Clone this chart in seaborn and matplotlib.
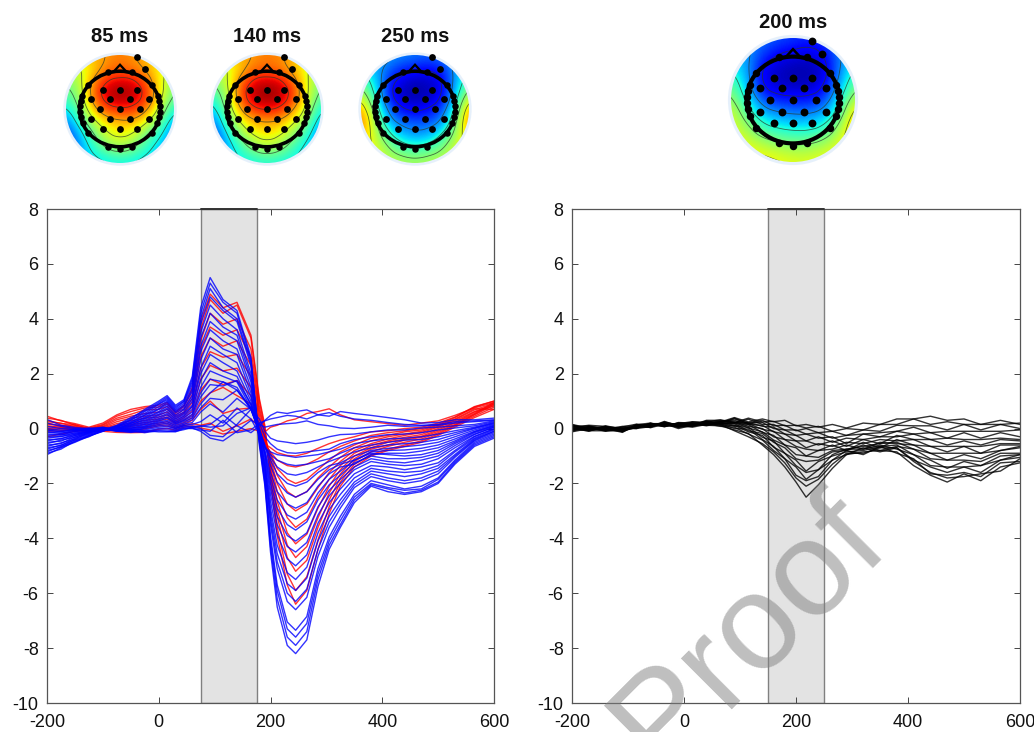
import numpy as np
import pandas as pd
import matplotlib
matplotlib.use('Agg')
import matplotlib.pyplot as plt
from matplotlib.patches import Circle, Ellipse, Polygon
import seaborn as sns

# time grids (ms)
erp_time = [-200,-175,-150,-125,-100,-75,-50,-25,0, 15,30,45,60,75,92, 115,140,165,180,190,200,212,230,245,
            265,285,305,325,350,380,410,440,470,500,530,565,600]
diff_time = [-200,-170,-140,-110,-85,-60,-35,-10,15,40,65,90,115,140,160,180,200,218,240,265,290,320,350,380,410,440,470,500,530,565,600]

blue_lines = [
    [-0.95,-0.7,-0.5,-0.28,-0.1,0.1,0.35,0.7,1.0, 1.2,0.85,1.05,1.9,4.4,5.5, 4.7,4.3,2.6,-0.6,-2.1,-4.5,-6.5,-7.9,-8.2, -7.7,-5.75,-4.4,-3.6,-2.7,-2.1,-2.3,-2.4,-2.3,-2.0,-1.3,-0.65,-0.35],
    [-0.9,-0.75,-0.45,-0.3,-0.05,0.12,0.4,0.65,0.95, 1.15,0.8,1.0,1.8,4.2,5.3, 4.6,4.2,2.5,-0.5,-2.0,-4.3,-6.2,-7.6,-7.9, -7.4,-5.5,-4.25,-3.5,-2.6,-2.05,-2.2,-2.35,-2.25,-1.95,-1.25,-0.6,-0.3],
    [-0.85,-0.65,-0.48,-0.25,-0.1,0.08,0.3,0.62,0.9, 1.1,0.75,0.98,1.7,4.0,5.1, 4.4,4.0,2.4,-0.45,-1.9,-4.1,-5.9,-7.3,-7.6, -7.1,-5.3,-4.1,-3.35,-2.5,-2.0,-2.15,-2.25,-2.2,-1.85,-1.2,-0.55,-0.25],
    [-0.8,-0.68,-0.4,-0.22,-0.04,0.05,0.32,0.55,0.88, 1.05,0.7,0.92,1.6,3.8,4.8, 4.3,3.9,2.3,-0.4,-1.8,-3.9,-5.7,-7.05,-7.35, -6.85,-5.1,-3.95,-3.2,-2.4,-1.9,-2.05,-2.2,-2.1,-1.8,-1.15,-0.5,-0.2],
    [-0.75,-0.6,-0.42,-0.26,-0.08,0.04,0.25,0.5,0.8, 1.0,0.66,0.85,1.45,3.5,4.5, 4.0,3.6,2.0,-0.35,-1.6,-3.5,-5.1,-6.3,-6.6, -6.15,-4.65,-3.6,-2.9,-2.15,-1.75,-1.9,-2.0,-1.9,-1.65,-1.05,-0.45,-0.15],
    [-0.7,-0.62,-0.35,-0.2,-0.06,0.06,0.22,0.48,0.72, 0.95,0.62,0.8,1.35,3.3,4.2, 3.7,3.4,1.85,-0.3,-1.5,-3.3,-4.85,-6.0,-6.3, -5.85,-4.4,-3.4,-2.75,-2.05,-1.65,-1.8,-1.9,-1.8,-1.55,-1.0,-0.42,-0.1],
    [-0.65,-0.52,-0.38,-0.15,-0.02,0.0,0.18,0.42,0.7, 0.88,0.58,0.72,1.2,3.0,3.9, 3.5,3.2,1.7,-0.3,-1.4,-3.1,-4.55,-5.65,-5.9, -5.45,-4.1,-3.2,-2.6,-1.95,-1.55,-1.65,-1.75,-1.65,-1.45,-0.95,-0.38,-0.1],
    [-0.6,-0.55,-0.3,-0.18,0.0,-0.02,0.2,0.38,0.62, 0.82,0.5,0.68,1.1,2.8,3.6, 3.2,2.9,1.5,-0.3,-1.3,-2.9,-4.25,-5.25,-5.5, -5.05,-3.8,-2.95,-2.4,-1.8,-1.45,-1.55,-1.6,-1.55,-1.35,-0.85,-0.35,-0.05],
    [-0.55,-0.42,-0.32,-0.12,-0.04,0.02,0.12,0.35,0.58, 0.75,0.45,0.6,1.0,2.5,3.3, 2.9,2.7,1.3,-0.25,-1.2,-2.65,-3.85,-4.75,-5.0, -4.6,-3.45,-2.7,-2.2,-1.65,-1.35,-1.4,-1.5,-1.4,-1.25,-0.8,-0.3,-0.02],
    [-0.5,-0.46,-0.25,-0.16,0.02,-0.03,0.15,0.3,0.52, 0.7,0.4,0.55,0.85,2.2,3.0, 2.7,2.4,1.15,-0.2,-1.05,-2.4,-3.5,-4.3,-4.5, -4.15,-3.15,-2.45,-2.0,-1.5,-1.2,-1.3,-1.35,-1.3,-1.1,-0.7,-0.28,0.0],
    [-0.45,-0.36,-0.26,-0.1,-0.02,0.0,0.1,0.26,0.48, 0.62,0.35,0.5,0.8,2.0,2.7, 2.4,2.1,1.0,-0.2,-0.95,-2.2,-3.2,-3.9,-4.1, -3.8,-2.85,-2.25,-1.85,-1.4,-1.1,-1.2,-1.25,-1.15,-1.0,-0.62,-0.22,0.05],
    [-0.4,-0.38,-0.2,-0.14,0.0,-0.05,0.08,0.22,0.42, 0.55,0.3,0.45,0.7,1.75,2.4, 2.1,1.9,0.85,-0.2,-0.9,-2.0,-2.9,-3.5,-3.7, -3.4,-2.6,-2.05,-1.7,-1.25,-1.0,-1.1,-1.1,-1.05,-0.9,-0.55,-0.2,0.05],
    [-0.35,-0.28,-0.22,-0.08,-0.03,-0.02,0.05,0.18,0.36, 0.5,0.25,0.4,0.6,1.5,2.1, 1.9,1.7,0.75,-0.2,-0.85,-1.8,-2.6,-3.15,-3.3, -3.05,-2.35,-1.85,-1.55,-1.15,-0.9,-0.95,-1.0,-0.95,-0.8,-0.5,-0.15,0.08],
    [-0.3,-0.3,-0.15,-0.12,0.02,-0.06,0.0,0.15,0.32, 0.42,0.22,0.34,0.52,1.3,1.8, 1.7,1.5,0.7,-0.15,-0.8,-1.6,-2.3,-2.75,-2.9, -2.7,-2.1,-1.65,-1.4,-1.3,-0.95,-0.9,-0.9,-0.82,-0.7,-0.45,-0.12,0.1],
    [-0.25,-0.22,-0.18,-0.05,-0.05,-0.03,0.02,0.1,0.28, 0.38,0.18,0.3,0.45,1.15,1.6, 1.55,1.75,0.9,0.0,-0.65,-1.35,-1.95,-2.35,-2.5, -2.3,-1.85,-1.5,-1.3,-1.15,-0.85,-0.8,-0.78,-0.72,-0.6,-0.38,-0.1,0.12],
    [-0.2,-0.24,-0.1,-0.08,0.0,-0.08,-0.03,0.08,0.24, 0.3,0.15,0.26,0.38,0.9,1.3, 1.7,1.4,0.7,-0.1,-0.6,-1.15,-1.65,-2.0,-2.1, -1.95,-1.6,-1.35,-1.25,-1.0,-0.8,-0.72,-0.66,-0.6,-0.5,-0.3,-0.05,0.15],
    [-0.15,-0.16,-0.12,-0.02,-0.06,-0.04,-0.05,0.05,0.2, 0.25,0.1,0.2,0.32,0.75,1.1, 1.05,1.4,0.75,-0.1,-0.65,-1.05,-1.4,-1.65,-1.7, -1.6,-1.4,-1.2,-1.05,-0.85,-0.7,-0.6,-0.55,-0.5,-0.4,-0.22,0.0,0.18],
    [-0.12,-0.18,-0.06,-0.06,0.02,-0.1,-0.08,0.02,0.15, 0.2,0.06,0.16,0.22,0.6,0.9, 0.6,1.1,0.7,0.0,-0.7,-0.95,-1.15,-1.3,-1.35, -1.3,-1.2,-1.1,-0.9,-0.7,-0.6,-0.5,-0.42,-0.4,-0.3,-0.15,0.02,0.2],
    [-0.08,-0.1,-0.08,0.0,-0.04,-0.05,-0.1,0.0,0.1, 0.14,0.02,0.12,0.15,0.25,0.5, 0.2,0.75,0.35,-0.2,-0.7,-0.85,-0.95,-1.0,-1.05, -1.0,-0.95,-0.85,-0.75,-0.55,-0.45,-0.38,-0.35,-0.3,-0.2,-0.08,0.05,0.22],
    [-0.05,-0.12,-0.02,-0.04,0.03,-0.08,-0.12,-0.05,0.05, 0.08,0.0,0.1,0.08,0.1,0.05, 0.1,0.55,0.75,0.2,-0.3,-0.55,-0.75,-0.88,-0.9, -0.85,-0.8,-0.75,-0.55,-0.4,-0.3,-0.22,-0.2,-0.15,-0.05,0.02,0.1,0.25],
    [0.0,-0.06,-0.05,0.02,-0.02,-0.1,-0.14,-0.1,0.0, 0.02,-0.04,0.06,0.05,0.0,-0.25, -0.3,0.15,0.7,0.35,-0.1,-0.35,-0.45,-0.5,-0.55, -0.5,-0.42,-0.3,-0.22,-0.2,-0.12,-0.05,-0.05,0.02,0.05,0.1,0.15,0.28],
    [0.08,0.0,-0.02,-0.03,0.04,-0.06,-0.1,-0.12,-0.05, -0.05,-0.08,0.02,0.02,-0.1,-0.35, -0.45,-0.1,0.3,0.15,0.05,0.1,0.15,0.18,0.2, 0.28,0.15,0.1,0.02,0.0,0.05,0.12,0.08,0.1,0.12,0.2,0.25,0.3],
    [0.2,0.08,0.0,-0.06,0.0,-0.02,-0.08,-0.15,-0.08, -0.1,-0.12,0.0,0.0,-0.05,-0.1, 0.3,-0.15,-0.05,0.2,0.28,0.35,0.4,0.48,0.45, 0.35,0.5,0.58,0.45,0.35,0.3,0.22,0.15,0.12,0.15,0.25,0.28,0.32],
    [0.33,0.12,0.04,0.0,0.05,-0.04,-0.02,-0.08,-0.12, -0.12,-0.1,-0.04,0.05,0.08,0.15, 0.5,0.1,-0.15,0.1,0.3,0.48,0.6,0.55,0.62, 0.68,0.5,0.45,0.62,0.55,0.48,0.4,0.32,0.2,0.22,0.32,0.32,0.38],
]

red_lines = [
    [0.45,0.28,0.18,0.05,0.2,0.5,0.7,0.8,0.85, 0.95,0.6,0.85,1.5,3.9,4.9, 4.4,4.6,3.4,1.1,0.1,-1.9,-3.9,-5.7,-6.4, -5.9,-4.4,-3.1,-2.1,-1.4,-1.0,-0.8,-0.65,-0.5,-0.25,0.05,0.4,0.7],
    [0.38,0.3,0.12,0.02,0.15,0.45,0.62,0.75,0.78, 0.9,0.55,0.8,1.4,3.6,4.7, 4.2,4.5,3.3,1.0,0.0,-1.8,-3.6,-5.3,-5.9, -5.4,-4.05,-2.85,-1.95,-1.3,-0.95,-0.75,-0.6,-0.45,-0.2,0.1,0.45,0.78],
    [0.3,0.18,0.15,-0.02,0.12,0.38,0.52,0.68,0.7, 0.8,0.48,0.7,1.25,3.2,4.2, 3.8,4.0,2.9,0.8,-0.1,-1.6,-3.2,-4.7,-5.2, -4.8,-3.6,-2.6,-1.8,-1.2,-0.85,-0.65,-0.5,-0.38,-0.15,0.12,0.5,0.85],
    [0.25,0.2,0.06,0.0,0.08,0.32,0.45,0.55,0.6, 0.7,0.42,0.6,1.1,2.9,3.7, 3.4,3.6,2.6,0.65,-0.15,-1.5,-2.95,-4.25,-4.7, -4.3,-3.25,-2.35,-1.65,-1.1,-0.75,-0.6,-0.42,-0.32,-0.1,0.15,0.52,0.9],
    [0.2,0.1,0.1,-0.06,0.05,0.25,0.38,0.45,0.5, 0.6,0.35,0.55,0.95,2.6,3.3, 3.0,3.2,2.3,0.5,-0.25,-1.35,-2.65,-3.8,-4.2, -3.85,-2.9,-2.1,-1.5,-1.0,-0.7,-0.5,-0.38,-0.28,-0.05,0.2,0.55,0.95],
    [0.15,0.12,0.02,-0.04,0.02,0.18,0.28,0.38,0.42, 0.5,0.28,0.45,0.8,2.2,2.8, 2.6,2.7,1.9,0.35,-0.35,-1.2,-2.3,-3.25,-3.6, -3.3,-2.5,-1.85,-1.35,-0.9,-0.62,-0.45,-0.32,-0.22,0.0,0.22,0.6,0.82],
    [0.1,0.04,0.05,-0.08,0.0,0.12,0.2,0.3,0.35, 0.42,0.22,0.38,0.65,1.8,2.3, 2.1,2.2,1.5,0.2,-0.4,-1.1,-2.0,-2.75,-3.0, -2.75,-2.15,-1.6,-1.2,-0.8,-0.55,-0.38,-0.25,-0.15,0.05,0.28,0.62,0.88],
    [0.05,0.06,-0.02,-0.05,-0.02,0.08,0.14,0.22,0.28, 0.35,0.18,0.3,0.5,1.4,1.8, 1.6,1.75,1.2,0.05,-0.45,-0.95,-1.7,-2.3,-2.5, -2.3,-1.8,-1.4,-1.05,-0.7,-0.45,-0.3,-0.2,-0.1,0.08,0.32,0.68,0.92],
    [0.0,-0.02,0.02,-0.1,-0.05,0.02,0.08,0.15,0.2, 0.25,0.12,0.22,0.4,1.0,1.3, 1.5,1.2,0.9,0.0,-0.5,-0.9,-1.45,-1.85,-2.0, -1.85,-1.5,-1.15,-0.85,-0.6,-0.35,-0.25,-0.12,-0.05,0.12,0.35,0.72,0.7],
    [-0.05,0.0,-0.06,-0.06,-0.08,-0.04,0.02,0.05,0.15, 0.18,0.05,0.15,0.3,0.7,1.0, 0.55,0.7,0.75,0.15,-0.55,-0.85,-1.15,-1.35,-1.4, -1.3,-1.1,-0.85,-0.65,-0.45,-0.25,-0.15,-0.08,0.0,0.15,0.4,0.78,1.0],
    [-0.1,-0.08,-0.02,-0.12,-0.04,-0.08,-0.06,-0.02,0.1, 0.1,0.0,0.1,0.18,0.12,0.2, -0.1,0.1,0.35,0.05,-0.55,-0.7,-0.88,-0.98,-1.0, -0.9,-0.72,-0.55,-0.42,-0.3,-0.12,-0.08,0.0,0.05,0.2,0.42,0.8,1.0],
    [-0.3,-0.2,-0.1,-0.08,-0.1,-0.14,-0.15,-0.14,-0.02, 0.0,-0.06,0.05,0.1,0.02,-0.05, -0.2,-0.1,0.0,-0.1,-0.12,0.05,0.12,0.28,0.35, 0.55,0.62,0.72,0.5,0.32,0.25,0.18,0.12,0.2,0.28,0.48,0.75,0.95],
]

black_lines = [
    [0.08,-0.05,0.02,-0.08,0.1,0.12,0.2,0.05,0.15,0.12,0.1,-0.05,-0.18,-0.6,-0.95,-1.4,-1.95,-2.5,-2.05,-1.45,-0.95,-0.85,-0.8,-0.85,-1.35,-1.7,-1.95,-1.65,-1.9,-1.4,-1.25],
    [0.0,0.02,-0.08,-0.02,0.02,0.18,0.12,0.15,0.08,0.2,0.15,-0.08,-0.3,-0.55,-0.85,-1.25,-1.8,-2.1,-1.85,-1.3,-0.9,-0.9,-0.7,-0.7,-1.2,-1.6,-1.8,-1.75,-1.65,-1.55,-1.1],
    [0.12,-0.08,0.05,-0.05,0.08,0.05,0.22,0.1,0.2,0.18,0.08,0.05,-0.2,-0.42,-0.8,-1.1,-1.7,-1.9,-1.75,-1.15,-0.8,-0.95,-0.65,-0.9,-1.1,-1.65,-1.7,-1.6,-1.75,-1.25,-1.2],
    [-0.05,0.05,-0.02,-0.1,0.05,0.15,0.08,0.12,0.05,0.15,0.18,0.0,-0.02,-0.4,-0.65,-1.1,-1.4,-1.85,-1.5,-1.15,-0.95,-0.7,-0.85,-0.7,-1.15,-1.4,-1.6,-1.4,-1.6,-1.15,-1.05],
    [0.05,-0.02,0.08,-0.12,0.12,0.1,0.18,0.0,0.12,0.22,0.12,0.12,-0.12,-0.25,-0.68,-0.9,-1.35,-1.6,-1.5,-0.95,-0.75,-0.75,-0.6,-0.75,-0.95,-1.35,-1.4,-1.4,-1.35,-1.15,-0.95],
    [0.15,0.02,-0.05,0.0,0.0,0.2,0.1,0.18,0.18,0.1,0.2,0.08,0.05,-0.32,-0.45,-0.9,-1.15,-1.55,-1.2,-1.0,-0.85,-0.8,-0.65,-0.6,-0.95,-1.15,-1.45,-1.2,-1.35,-1.0,-0.95],
    [-0.08,0.08,0.03,-0.06,0.08,0.08,0.15,0.08,0.1,0.18,0.25,0.18,-0.08,-0.18,-0.5,-0.7,-1.1,-1.2,-1.15,-0.85,-0.8,-0.6,-0.8,-0.65,-0.75,-1.1,-1.15,-1.15,-1.2,-0.9,-0.9],
    [0.02,-0.1,0.1,-0.02,0.15,0.14,0.1,0.2,0.15,0.25,0.15,0.22,0.02,-0.12,-0.42,-0.6,-0.95,-1.0,-1.05,-0.8,-0.75,-0.65,-0.55,-0.5,-0.75,-0.9,-1.15,-0.95,-1.1,-0.8,-0.65],
    [0.1,0.04,-0.1,-0.04,0.06,0.05,0.24,0.12,0.22,0.12,0.22,0.12,0.14,-0.14,-0.25,-0.6,-0.7,-1.0,-0.8,-0.75,-0.6,-0.75,-0.5,-0.55,-0.6,-0.9,-0.9,-0.9,-0.9,-0.8,-0.7],
    [-0.12,0.0,0.06,-0.08,0.1,0.16,0.12,0.06,0.08,0.2,0.28,0.25,0.08,0.0,-0.3,-0.4,-0.65,-0.75,-0.8,-0.6,-0.8,-0.5,-0.7,-0.4,-0.6,-0.65,-0.85,-0.65,-0.9,-0.6,-0.6],
    [0.06,0.1,-0.04,0.02,0.04,0.1,0.2,0.16,0.16,0.26,0.18,0.2,0.18,-0.03,-0.1,-0.4,-0.45,-0.7,-0.55,-0.65,-0.5,-0.55,-0.4,-0.45,-0.4,-0.65,-0.65,-0.65,-0.65,-0.55,-0.55],
    [0.0,-0.06,0.0,-0.14,0.14,0.2,0.06,0.22,0.2,0.16,0.25,0.3,0.15,0.12,-0.12,-0.2,-0.45,-0.45,-0.6,-0.45,-0.65,-0.4,-0.55,-0.25,-0.4,-0.4,-0.6,-0.45,-0.6,-0.4,-0.45],
    [0.14,-0.03,0.04,0.04,0.0,0.07,0.26,0.1,0.12,0.3,0.3,0.22,0.22,0.08,0.05,-0.2,-0.25,-0.45,-0.3,-0.5,-0.35,-0.4,-0.3,-0.3,-0.2,-0.4,-0.35,-0.4,-0.4,-0.35,-0.4],
    [-0.1,0.06,-0.06,-0.1,0.12,0.12,0.14,0.18,0.25,0.22,0.2,0.35,0.2,0.22,0.0,-0.05,-0.25,-0.2,-0.35,-0.3,-0.55,-0.2,-0.3,-0.1,-0.2,-0.15,-0.35,-0.15,-0.35,-0.15,-0.3],
    [0.04,0.12,0.08,-0.01,0.07,0.18,0.18,0.04,0.18,0.14,0.26,0.2,0.34,0.15,0.15,-0.05,-0.05,-0.2,-0.15,-0.35,-0.25,-0.2,-0.15,-0.1,0.05,-0.15,-0.1,-0.1,-0.1,-0.1,-0.05],
    [-0.02,-0.08,-0.08,0.06,0.16,0.03,0.16,0.14,0.1,0.28,0.2,0.38,0.18,0.3,0.1,0.12,-0.08,0.0,-0.15,-0.1,-0.25,-0.05,-0.1,0.12,0.1,0.1,-0.05,0.15,-0.05,0.15,0.0],
    [0.1,0.0,0.03,-0.06,0.03,0.14,0.08,0.2,0.14,0.24,0.32,0.22,0.38,0.24,0.26,0.1,0.12,0.02,0.08,-0.1,0.0,-0.05,0.15,0.15,0.35,0.15,0.25,0.15,0.15,0.15,0.2],
    [-0.04,0.07,-0.03,0.08,0.09,0.09,0.22,0.08,0.24,0.2,0.24,0.4,0.24,0.35,0.25,0.3,0.1,0.15,0.05,0.15,0.02,0.2,0.15,0.35,0.35,0.45,0.3,0.35,0.15,0.3,0.15],
]

window_left = [75, 175]
window_right = [150, 250]

# scalp map values on a 9x9 grid, 0-1 on the jet scale, top row is the front
map_85 = [
    [.70,.70,.72,.75,.78,.75,.72,.65,.60],
    [.58,.60,.68,.78,.80,.78,.72,.65,.55],
    [.50,.58,.78,.90,.93,.92,.82,.65,.52],
    [.45,.55,.82,.95,.98,.95,.87,.65,.48],
    [.36,.50,.72,.85,.88,.87,.78,.58,.40],
    [.26,.42,.58,.68,.72,.72,.62,.48,.30],
    [.18,.32,.48,.60,.64,.60,.48,.38,.24],
    [.15,.28,.40,.50,.54,.50,.40,.32,.25],
    [.20,.30,.33,.36,.38,.36,.33,.30,.25],
]
map_140 = [
    [.70,.70,.72,.75,.78,.76,.72,.65,.60],
    [.58,.60,.70,.79,.80,.78,.70,.62,.55],
    [.50,.60,.80,.92,.94,.92,.80,.62,.50],
    [.42,.56,.85,.96,.99,.96,.86,.62,.46],
    [.34,.52,.76,.88,.90,.88,.76,.58,.38],
    [.25,.45,.62,.72,.74,.72,.62,.50,.30],
    [.18,.36,.52,.62,.66,.62,.52,.40,.24],
    [.15,.30,.42,.52,.56,.52,.42,.33,.25],
    [.22,.32,.36,.38,.40,.38,.36,.32,.28],
]
map_250 = [
    [.30,.30,.28,.26,.24,.22,.24,.28,.32],
    [.36,.30,.22,.16,.14,.12,.16,.28,.38],
    [.46,.34,.15,.08,.05,.06,.10,.28,.46],
    [.58,.38,.14,.05,.03,.05,.10,.32,.58],
    [.72,.46,.22,.12,.10,.12,.18,.40,.72],
    [.78,.54,.30,.22,.20,.20,.26,.48,.76],
    [.72,.58,.42,.32,.28,.30,.40,.54,.70],
    [.68,.62,.52,.44,.42,.44,.50,.60,.66],
    [.64,.62,.58,.56,.54,.56,.58,.62,.64],
]
map_200 = [
    [.26,.26,.24,.20,.18,.16,.18,.24,.30],
    [.32,.28,.18,.12,.10,.08,.12,.24,.34],
    [.38,.28,.10,.06,.04,.04,.07,.24,.40],
    [.46,.30,.10,.06,.05,.05,.10,.28,.48],
    [.54,.36,.20,.15,.14,.14,.18,.36,.58],
    [.60,.46,.32,.28,.26,.26,.30,.44,.70],
    [.62,.55,.44,.40,.38,.38,.42,.55,.74],
    [.64,.62,.58,.54,.52,.52,.56,.62,.70],
    [.66,.66,.66,.64,.62,.62,.64,.66,.68],
]

map_titles = ['85 ms', '140 ms', '250 ms', '200 ms']

elec_x = [-.31,0,.31,-.54,-.18,.18,.54,-.375,0,.375,-.54,-.18,.18,.54,-.31,0,.31,.31,.47]
elec_y = [.36,.36,.36,.19,.19,.19,.19,0,0,0,-.19,-.19,-.19,-.19,-.375,-.375,-.375,.955,.74]
ring_x = [-.22,.22,-.6,.6,-.7,-.73,-.74,-.74,-.72,-.69,.7,.73,.74,.74,.72,.69,-.6,.6,-.22,0,.22]
ring_y = [.69,.69,.44,.44,.24,.15,.05,-.05,-.15,-.25,.24,.15,.05,-.05,-.15,-.25,-.45,-.45,-.7,-.74,-.7]

FIG_W, FIG_H = 1034, 732


def px_axes(fig, left, top, w, h):
    return fig.add_axes([left / FIG_W, 1 - (top + h) / FIG_H, w / FIG_W, h / FIG_H])


def butterfly(ax, time, groups, palette, window):
    rows = []
    for name, lines in groups:
        for i, line in enumerate(lines):
            rows.append(pd.DataFrame({'t': time, 'v': line, 'group': name, 'id': f'{name}{i}'}))
    df = pd.concat(rows, ignore_index=True)
    ax.axvspan(window[0], window[1], facecolor='#e3e3e3', edgecolor='#808080', lw=1.0, zorder=0)
    sns.lineplot(data=df, x='t', y='v', hue='group', units='id', estimator=None, palette=palette,
                 lw=1.0, alpha=0.8, legend=False, ax=ax, zorder=2)
    ax.plot(window, [8, 8], color='#333333', lw=1.4, clip_on=False, zorder=3)
    ax.set_xlim(-200, 600)
    ax.set_ylim(-10, 8)
    ax.set_xticks(range(-200, 601, 200))
    ax.set_yticks(range(-10, 9, 2))
    ax.set_xlabel('')
    ax.set_ylabel('')
    ax.tick_params(direction='in', length=4, width=0.7, color='#444444', top=True, right=True,
                   bottom=True, left=True, labelsize=13, labelcolor='#111111')
    ax.tick_params(axis='x', pad=8)
    ax.tick_params(axis='y', pad=6)
    for s in ax.spines.values():
        s.set_visible(True)
        s.set_color('#555555')
        s.set_linewidth(0.9)


def smooth_grid(vals, n=61):
    # finer copy of the map only for drawing round contour lines
    old = np.linspace(0, 1, vals.shape[0])
    new = np.linspace(0, 1, n)
    fine = np.array([np.interp(new, old, row) for row in vals])
    fine = np.array([np.interp(new, old, col) for col in fine.T]).T
    kernel = np.ones(9) / 9
    pad = np.pad(fine, 4, mode='edge')
    pad = np.apply_along_axis(lambda r: np.convolve(r, kernel, mode='same'), 0, pad)
    pad = np.apply_along_axis(lambda r: np.convolve(r, kernel, mode='same'), 1, pad)
    return pad[4:-4, 4:-4]


def scalp(fig, values, title, cx, cy, r, title_y):
    box = r * 1.1
    k = r / 54
    ax = px_axes(fig, cx - box, cy - box, 2 * box, 2 * box)
    ax.set_xlim(-1.1, 1.1)
    ax.set_ylim(-1.1, 1.1)
    ax.axis('off')
    ax.add_patch(Circle((0, 0), 1.05, fc='#dcebfa', ec='none', alpha=0.7, zorder=0))
    clip = Circle((0, 0), 1.0, transform=ax.transData)
    vals = np.array(values)
    im = ax.imshow(vals, extent=(-1.1, 1.1, -1.1, 1.1), cmap='jet', vmin=0, vmax=1,
                   interpolation='bicubic', origin='upper', aspect='equal', zorder=1)
    im.set_clip_path(clip)
    fine = smooth_grid(vals)
    gx = np.linspace(-1.0, 1.0, fine.shape[1])
    gy = np.linspace(1.0, -1.0, fine.shape[0])
    cs = ax.contour(gx, gy, fine, levels=[.12, .25, .38, .5, .62, .75, .88], colors='#2a3a2a',
                    linewidths=0.6, alpha=0.75, zorder=2)
    cs.set_clip_path(clip)
    ax.add_patch(Ellipse((0, 0), 1.5, 1.4, fc='none', ec='black', lw=2.6 * k, zorder=3))
    ax.add_patch(Polygon([(-.11, .70), (0, .82), (.11, .70)], closed=True, fc='none', ec='black', lw=1.6 * k, zorder=3))
    ax.scatter(ring_x, ring_y, s=22 * k ** 2, c='black', lw=0, zorder=5)
    ax.scatter(elec_x, elec_y, s=24 * k ** 2, c='black', lw=0, zorder=5)
    fig.text(cx / FIG_W, 1 - title_y / FIG_H, title, ha='center', va='center', fontsize=14.5,
             fontweight='bold', color='#111111')


if __name__ == '__main__':
    sns.set_theme(style='white')
    plt.rcParams['font.family'] = ['Liberation Sans', 'DejaVu Sans']
    plt.rcParams['axes.unicode_minus'] = False

    fig = plt.figure(figsize=(FIG_W / 100, FIG_H / 100), dpi=100)

    ax_left = px_axes(fig, 47, 209, 447, 494)
    butterfly(ax_left, erp_time, [('red', red_lines), ('blue', blue_lines)],
              {'red': '#ff0000', 'blue': '#0000ff'}, window_left)

    ax_right = px_axes(fig, 572, 209, 448, 494)
    butterfly(ax_right, diff_time, [('diff', black_lines)], {'diff': '#000000'}, window_right)

    scalp(fig, map_85, map_titles[0], 120, 109, 54, 37)
    scalp(fig, map_140, map_titles[1], 267, 109, 54, 37)
    scalp(fig, map_250, map_titles[2], 415, 109, 54, 37)
    scalp(fig, map_200, map_titles[3], 793, 100, 62, 22)

    fig.text(750 / FIG_W, 1 - 631 / FIG_H, 'Proof', rotation=45, ha='center', va='center', fontsize=98,
             color='#808080', alpha=0.5, zorder=10)

    fig.savefig('out.png', dpi=100)
